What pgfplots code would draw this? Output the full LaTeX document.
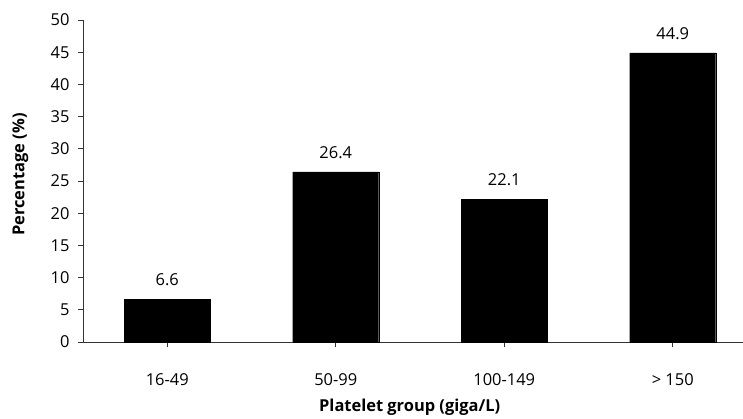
\documentclass[border=0pt]{standalone}
\usepackage{pgfplots}
\pgfplotsset{compat=1.18}
\usepackage{fontspec}
\setmainfont{Open Sans}

\begin{document}
\begin{tikzpicture}[x=1bp,y=1bp]
\begin{axis}[
  at={(0,0)}, anchor=south west,
  scale only axis, width=660bp, height=322bp,
  xmin=-0.5, xmax=3.417, ymin=0, ymax=50,
  axis x line*=bottom, axis y line*=left,
  axis line style={black!80, line width=0.8pt},
  ytick={0,5,...,50},
  xtick={0,1,2,3},
  xticklabels={16-49,50-99,100-149,> 150},
  tick align=outside, major tick length=5bp,
  tick style={black!80, line width=0.8pt},
  /pgf/number format/assume math mode=true,
  ticklabel style={font=\fontsize{16.5}{19}\selectfont},
  yticklabel style={xshift=-5bp},
  xticklabel style={yshift=-23bp},
  ybar, bar width=86bp,
  nodes near coords,
  every node near coord/.append style={font=\fontsize{16.5}{19}\selectfont, yshift=10bp},
  ylabel={\bfseries Percentage (\%)},
  xlabel={\bfseries Platelet group (giga/L)},
  ylabel style={at={(axis description cs:-0.095,0.52)}, anchor=center, rotate=0, font=\fontsize{16.5}{19}\selectfont},
  xlabel style={at={(axis description cs:0.495,-0.2019)}, anchor=center, font=\fontsize{16.5}{19}\selectfont},
]
\addplot[fill=black, draw=black] coordinates {(0,6.6) (1,26.4) (2,22.1) (3,44.9)};
\end{axis}
\pgfresetboundingbox
\path (-83bp,-77bp) rectangle (660bp,342bp);
\end{tikzpicture}
\end{document}
